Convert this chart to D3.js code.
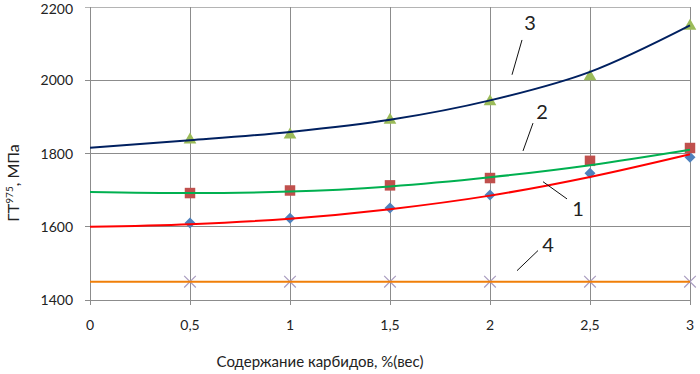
<!DOCTYPE html>
<html><head><meta charset="utf-8">
<script src="https://cdn.jsdelivr.net/npm/d3@7"></script>
<style>body{margin:0;background:#fff}svg{display:block}text{font-family:Lato,"Open Sans",sans-serif;fill:#222}</style>
</head><body><svg id="c" width="700" height="374"></svg>
<script>
const xTicks = [0, 0.5, 1, 1.5, 2, 2.5, 3];
const xTickLabels = ["0", "0,5", "1", "1,5", "2", "2,5", "3"];
const yTicks = [1400, 1600, 1800, 2000, 2200];
const xPoints = [0.5, 1, 1.5, 2, 2.5, 3];
const series1 = [1610, 1623, 1651, 1687, 1746, 1790];
const series2 = [1692, 1699, 1713, 1733, 1780, 1815];
const series3 = [1837, 1851, 1891, 1942, 2010, 2148];
const series4 = [1450, 1450, 1450, 1450, 1450, 1450];
const trendX = [0, 0.5, 1, 1.5, 2, 2.5, 3];
const trend1 = [1600, 1607, 1622, 1648, 1685, 1736, 1798];
const trend2 = [1695, 1692, 1696, 1710, 1735, 1768, 1810];
const trend3 = [1816, 1836, 1859, 1892, 1945, 2023, 2150];
const trend4 = [1450, 1450, 1450, 1450, 1450, 1450, 1450];
const curveLabels = [
  {t:"3", x:2.2, y:2157, x1:2.16, y1:2110, x2:2.11, y2:2015},
  {t:"2", x:2.26, y:1915, x1:2.215, y1:1883, x2:2.165, y2:1807},
  {t:"1", x:2.44, y:1650, x1:2.265, y1:1723, x2:2.385, y2:1676},
  {t:"4", x:2.29, y:1550, x1:2.24, y1:1535, x2:2.135, y2:1480}
];

const svg = d3.select("#c");
const L = 90, R = 690, T = 7, B = 300;
const x = d3.scaleLinear().domain([0, 3]).range([L, R]);
const y = d3.scaleLinear().domain([1400, 2200]).range([B, T]);

// grid
const g = svg.append("g");
g.selectAll("line.h").data(yTicks).join("line")
  .attr("x1", L - 5).attr("x2", R).attr("y1", d => y(d)).attr("y2", d => y(d))
  .attr("stroke", d => d === 2200 ? "#b4b4b4" : "#8c8c8c").attr("stroke-width", 1).attr("shape-rendering", "crispEdges");
g.selectAll("line.v").data(xTicks).join("line")
  .attr("x1", d => x(d)).attr("x2", d => x(d)).attr("y1", T).attr("y2", B + 5)
  .attr("stroke", "#8c8c8c").attr("stroke-width", 1).attr("shape-rendering", "crispEdges");

// tick labels
svg.selectAll("text.yt").data(yTicks).join("text")
  .attr("x", 73).attr("y", d => Math.max(y(d), 9)).attr("dy", "0.36em").attr("text-anchor", "end")
  .attr("font-size", 14).text(d => d);
svg.selectAll("text.xt").data(xTicks).join("text")
  .attr("x", d => x(d)).attr("y", 330).attr("text-anchor", "middle")
  .attr("font-size", 14).text((d, i) => xTickLabels[i]);

// axis titles
svg.append("text").attr("x", 320).attr("y", 367).attr("text-anchor", "middle")
  .attr("font-size", 15).text("Содержание карбидов,  %(вес)");
const yt = svg.append("text").attr("transform", "translate(19,183) rotate(-90)")
  .attr("text-anchor", "middle").attr("font-size", 16);
yt.append("tspan").text("ГТ");
yt.append("tspan").attr("font-size", 10).attr("dy", -6).text("975");
yt.append("tspan").attr("dy", 6).text(", МПа");

// markers
const diamond = "M0,-5.5L5.5,0L0,5.5L-5.5,0Z";
const sym = (type, size) => d3.symbol().type(type).size(size)();
const mk = svg.append("g");
mk.selectAll("path.s1").data(series1).join("path")
  .attr("transform", (d, i) => `translate(${x(xPoints[i])},${y(d)})`)
  .attr("d", diamond).attr("fill", "#4f81bd");
mk.selectAll("path.s2").data(series2).join("path")
  .attr("transform", (d, i) => `translate(${x(xPoints[i])},${y(d)})`)
  .attr("d", sym(d3.symbolSquare, 110)).attr("fill", "#c0504d");
mk.selectAll("path.s3").data(series3).join("path")
  .attr("transform", (d, i) => `translate(${x(xPoints[i])},${y(d)})`)
  .attr("d", sym(d3.symbolTriangle, 70)).attr("fill", "#9bbb59");
mk.selectAll("path.s4").data(series4).join("path")
  .attr("transform", (d, i) => `translate(${x(xPoints[i])},${y(d)})`)
  .attr("d", sym(d3.symbolX, 90)).attr("fill", "none").attr("stroke", "#a99cc0").attr("stroke-width", 1.2);

// trend lines
const line = d3.line().x((d, i) => x(trendX[i])).y(d => y(d)).curve(d3.curveMonotoneX);
[[trend4, "#f07f09"], [trend1, "#ff0000"], [trend2, "#00b050"], [trend3, "#002060"]].forEach(([t, c]) => {
  svg.append("path").attr("d", line(t)).attr("fill", "none").attr("stroke", c).attr("stroke-width", 2);
});

// curve labels with leader lines
curveLabels.forEach(l => {
  svg.append("line").attr("x1", x(l.x1)).attr("y1", y(l.y1)).attr("x2", x(l.x2)).attr("y2", y(l.y2))
    .attr("stroke", "#111").attr("stroke-width", 1);
  svg.append("text").attr("x", x(l.x)).attr("y", y(l.y)).attr("dy", "0.36em").attr("text-anchor", "middle")
    .attr("font-size", 20).text(l.t);
});
</script></body></html>
